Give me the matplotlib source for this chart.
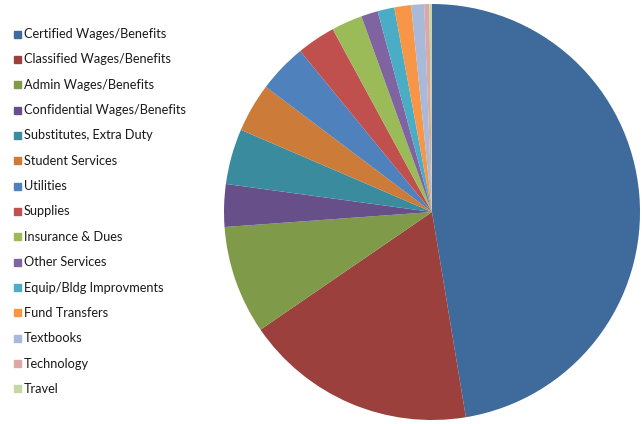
import matplotlib.pyplot as plt
from matplotlib.patches import Rectangle

# Budget shares by expense category (percent)
categories = ["Certified Wages/Benefits", "Classified Wages/Benefits", "Admin Wages/Benefits",
              "Confidential Wages/Benefits", "Substitutes, Extra Duty", "Student Services",
              "Utilities", "Supplies", "Insurance & Dues", "Other Services",
              "Equip/Bldg Improvments", "Fund Transfers", "Textbooks", "Technology", "Travel"]
shares = [47.3, 18.0, 8.4, 3.3, 4.3, 3.8, 3.8, 3.0, 2.4, 1.3, 1.3, 1.3, 1.0, 0.4, 0.2]
colors = ["#3F6A9C", "#9C403D", "#7F9A48", "#67508A", "#3A8B9E", "#CC7B38",
          "#4F81BD", "#C0504D", "#9BBB59", "#8064A2", "#4BACC6", "#F79646",
          "#A8B9D9", "#D9A8A7", "#C5D7A6"]

W, H = 642, 424
fig = plt.figure(figsize=(W / 100, H / 100), dpi=100)

# pie centred at (432, 212) px with a 208 px radius
cx, cy, r = 432, 212, 208
ax = fig.add_axes([(cx - r) / W, (H - cy - r) / H, 2 * r / W, 2 * r / H])
ax.pie(shares, colors=colors, startangle=90, counterclock=False, radius=1,
       wedgeprops=dict(linewidth=0))
ax.set_xlim(-1, 1)
ax.set_ylim(-1, 1)
ax.set_aspect("equal")
ax.axis("off")

# legend drawn by hand down the left side
y0, step = 34, 25.35
for i, (lab, col) in enumerate(zip(categories, colors)):
    y = y0 + i * step
    fig.patches.append(Rectangle((14 / W, 1 - (y + 3.5) / H), 7 / W, 7 / H,
                                 transform=fig.transFigure, color=col))
    fig.text(24 / W, 1 - y / H, lab, fontsize=9.2, family="Lato",
             va="center", ha="left", color="#1a1a1a")

fig.savefig("out.png", dpi=100)
